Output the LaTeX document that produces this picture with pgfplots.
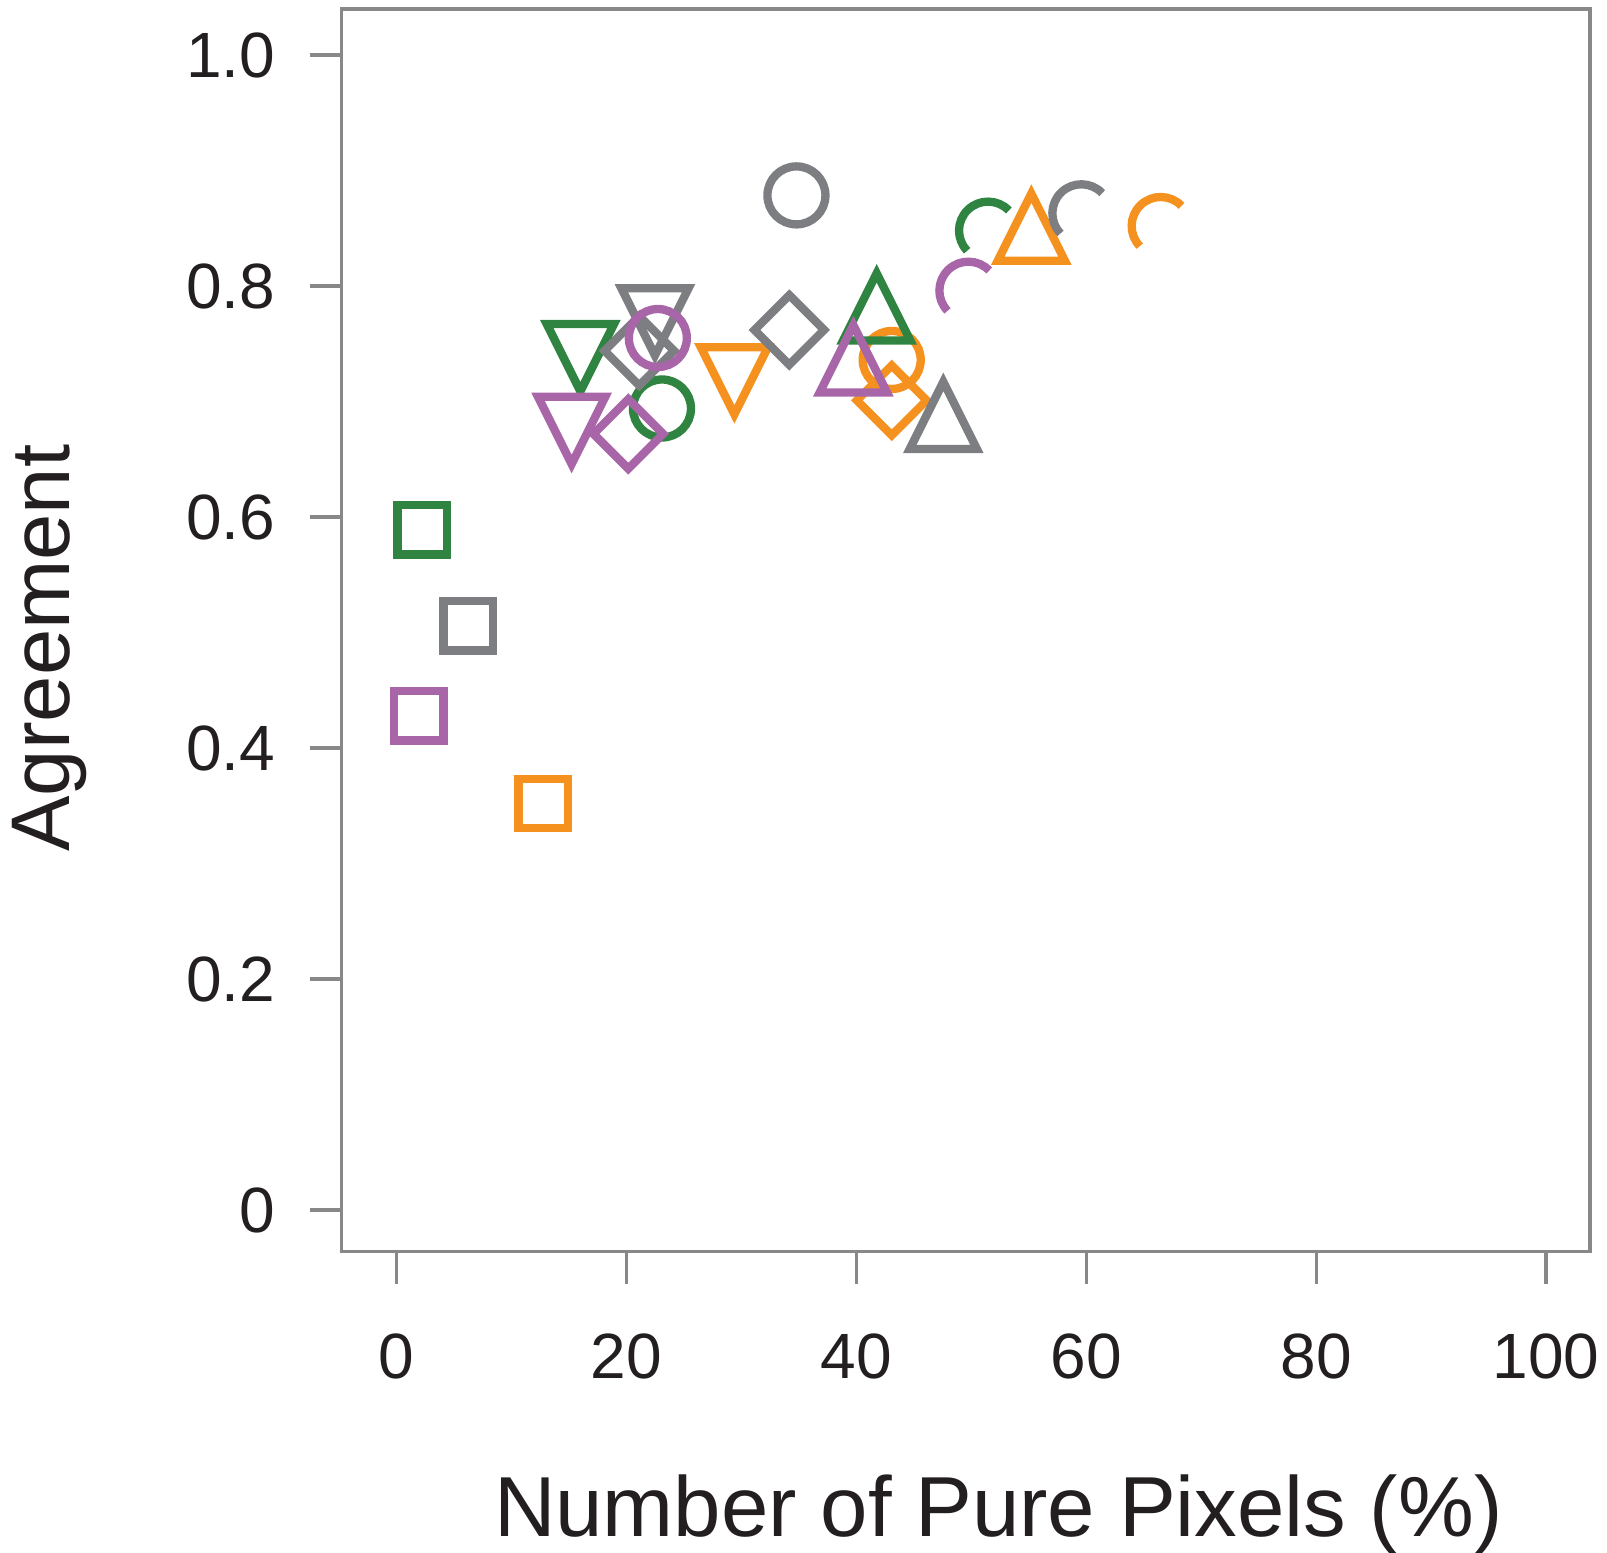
\documentclass[border=0pt]{standalone}
\usepackage{pgfplots}
\pgfplotsset{compat=1.18}
\usepackage{fontspec}
\setmainfont{Liberation Sans}
\definecolor{cgreen}{HTML}{2E8440}
\definecolor{cgray}{HTML}{7D7E82}
\definecolor{cpurple}{HTML}{A866A8}
\definecolor{corange}{HTML}{F5921F}
\definecolor{axisgray}{HTML}{888888}
\definecolor{txt}{HTML}{231F20}
\pgfdeclareplotmark{utri}{%
  \pgfpathmoveto{\pgfqpoint{0pt}{\pgfplotmarksize}}%
  \pgfpathlineto{\pgfqpoint{\pgfplotmarksize}{-\pgfplotmarksize}}%
  \pgfpathlineto{\pgfqpoint{-\pgfplotmarksize}{-\pgfplotmarksize}}%
  \pgfpathclose\pgfusepathqstroke}
\pgfdeclareplotmark{dtri}{%
  \pgfpathmoveto{\pgfqpoint{0pt}{-\pgfplotmarksize}}%
  \pgfpathlineto{\pgfqpoint{\pgfplotmarksize}{\pgfplotmarksize}}%
  \pgfpathlineto{\pgfqpoint{-\pgfplotmarksize}{\pgfplotmarksize}}%
  \pgfpathclose\pgfusepathqstroke}
\pgfdeclareplotmark{rdia}{%
  \pgfpathmoveto{\pgfqpoint{0pt}{\pgfplotmarksize}}%
  \pgfpathlineto{\pgfqpoint{\pgfplotmarksize}{0pt}}%
  \pgfpathlineto{\pgfqpoint{0pt}{-\pgfplotmarksize}}%
  \pgfpathlineto{\pgfqpoint{-\pgfplotmarksize}{0pt}}%
  \pgfpathclose\pgfusepathqstroke}
\pgfdeclareplotmark{sq}{%
  \pgfpathmoveto{\pgfqpoint{-\pgfplotmarksize}{-\pgfplotmarksize}}%
  \pgfpathlineto{\pgfqpoint{\pgfplotmarksize}{-\pgfplotmarksize}}%
  \pgfpathlineto{\pgfqpoint{\pgfplotmarksize}{\pgfplotmarksize}}%
  \pgfpathlineto{\pgfqpoint{-\pgfplotmarksize}{\pgfplotmarksize}}%
  \pgfpathclose\pgfusepathqstroke}
\pgfdeclareplotmark{circ}{%
  \pgfpathcircle{\pgfpointorigin}{\pgfplotmarksize}\pgfusepathqstroke}
\pgfdeclareplotmark{carc}{%
  \pgfpathmoveto{\pgfqpoint{.7193\pgfplotmarksize}{.6947\pgfplotmarksize}}%
  \pgfpatharc{44}{224}{\pgfplotmarksize}%
  \pgfusepathqstroke}
\pgfplotsset{
  sqs/.style={only marks, mark=sq, mark size=6.2pt},
  dias/.style={only marks, mark=rdia, mark size=8.7pt},
  utris/.style={only marks, mark=utri, mark size=8.4pt},
  dtris/.style={only marks, mark=dtri, mark size=8.4pt},
  circs/.style={only marks, mark=circ, mark size=7.25pt},
  arcs/.style={only marks, mark=carc, mark size=7.25pt},
}
\begin{document}
\begin{tikzpicture}
\path[use as bounding box] (0,0) rectangle (401.75pt,388.25pt);
\begin{axis}[
  at={(85.43pt,75.375pt)}, anchor=south west,
  scale only axis, width=312.08pt, height=310.6pt,
  xmin=-4.786, xmax=103.83, ymin=-0.0359, ymax=1.0398,
  axis line style={draw=axisgray, line width=0.83pt},
  tick align=outside, tick pos=left,
  major tick length=8pt,
  tick style={draw=axisgray, line width=0.83pt},
  xtick={0,20,40,60,80,100}, xticklabels={0,20,40,60,80,100},
  ytick={0,0.2,0.4,0.6,0.8,1}, yticklabels={0,0.2,0.4,0.6,0.8,1.0},
  ticklabel style={font=\fontsize{16}{19}\selectfont, text=txt},
  xticklabel style={yshift=-9pt},
  yticklabel style={xshift=-5.1pt},
  xlabel={Number of Pure Pixels (\%)},
  ylabel={Agreement},
  label style={text=txt},
  xlabel style={font=\fontsize{21.3}{25}\selectfont, at={(axis description cs:0.526,-0.2296)}, anchor=base},
  ylabel style={font=\fontsize{20.8}{25}\selectfont, at={(axis description cs:-0.2177,0.4857)}, anchor=base},
  every axis plot/.append style={line width=2.08pt},
  clip=false,
]
% orange
\addplot[sqs, color=corange] coordinates {(12.76,0.352)};
\addplot[dtris, color=corange] coordinates {(29.38,0.718)};
\addplot[dias, color=corange] coordinates {(43.07,0.701)};
\addplot[circs, color=corange] coordinates {(43.07,0.736)};
\addplot[utris, color=corange] coordinates {(55.22,0.851)};
\addplot[arcs, color=corange] coordinates {(66.47,0.852)};
% green
\addplot[sqs, color=cgreen] coordinates {(2.22,0.589)};
\addplot[dtris, color=cgreen] coordinates {(15.98,0.738)};
\addplot[circs, color=cgreen] coordinates {(23.08,0.694)};
\addplot[utris, color=cgreen] coordinates {(41.76,0.782)};
\addplot[arcs, color=cgreen] coordinates {(51.45,0.848)};
% gray
\addplot[sqs, color=cgray] coordinates {(6.22,0.506)};
\addplot[dias, color=cgray] coordinates {(21.1,0.744) (34.16,0.762)};
\addplot[dtris, color=cgray] coordinates {(22.47,0.769)};
\addplot[circs, color=cgray] coordinates {(34.78,0.8785)};
\addplot[utris, color=cgray] coordinates {(47.56,0.688)};
\addplot[arcs, color=cgray] coordinates {(59.57,0.863)};
% purple
\addplot[sqs, color=cpurple] coordinates {(1.90,0.428)};
\addplot[dtris, color=cpurple] coordinates {(15.22,0.675)};
\addplot[dias, color=cpurple] coordinates {(20.15,0.672)};
\addplot[circs, color=cpurple] coordinates {(22.72,0.755)};
\addplot[utris, color=cpurple] coordinates {(39.73,0.737)};
\addplot[arcs, color=cpurple] coordinates {(49.74,0.796)};
\end{axis}
\end{tikzpicture}
\end{document}
